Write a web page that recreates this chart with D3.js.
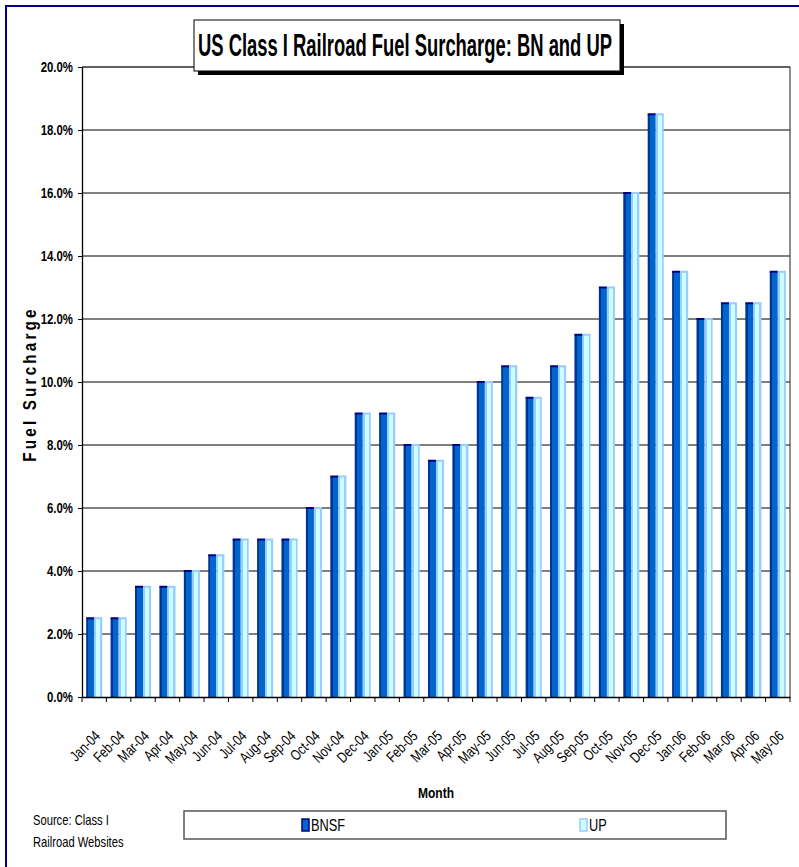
<!DOCTYPE html>
<html>
<head>
<meta charset="utf-8">
<script src="https://cdn.jsdelivr.net/npm/d3@7"></script>
<style>
  body { margin: 0; background: #fff; }
  svg text { font-family: "Liberation Sans", Arial, sans-serif; }
</style>
</head>
<body>
<svg id="chart" width="799" height="867"></svg>
<script>
// data
var months = ["Jan-04","Feb-04","Mar-04","Apr-04","May-04","Jun-04","Jul-04","Aug-04","Sep-04","Oct-04","Nov-04","Dec-04",
              "Jan-05","Feb-05","Mar-05","Apr-05","May-05","Jun-05","Jul-05","Aug-05","Sep-05","Oct-05","Nov-05","Dec-05",
              "Jan-06","Feb-06","Mar-06","Apr-06","May-06"];
var bnsf = [2.5,2.5,3.5,3.5,4.0,4.5,5.0,5.0,5.0,6.0,7.0,9.0,9.0,8.0,7.5,8.0,10.0,10.5,9.5,10.5,11.5,13.0,16.0,18.5,13.5,12.0,12.5,12.5,13.5];
var up   = [2.5,2.5,3.5,3.5,4.0,4.5,5.0,5.0,5.0,6.0,7.0,9.0,9.0,8.0,7.5,8.0,10.0,10.5,9.5,10.5,11.5,13.0,16.0,18.5,13.5,12.0,12.5,12.5,13.5];
var seriesNames = ["BNSF","UP"];
var yTicks = [0,2,4,6,8,10,12,14,16,18,20];

var svg = d3.select("#chart");
var narrow = " scale(0.8,1)"; // no narrow font installed, squeeze text instead

// plot area
var plotL = 82, plotR = 790, plotT = 67, plotB = 697;

var x = d3.scaleBand().domain(months).range([plotL, plotR]).paddingInner(0).paddingOuter(0);
var x1 = d3.scaleBand().domain(seriesNames).range([0, x.bandwidth()]).paddingInner(0).paddingOuter(0.52);
var y = d3.scaleLinear().domain([0, 20]).range([plotB, plotT]);

// gradients for the bar look
var defs = svg.append("defs");
var g1 = defs.append("linearGradient").attr("id", "gBNSF");
g1.append("stop").attr("offset", "0%").attr("stop-color", "#003399");
g1.append("stop").attr("offset", "28%").attr("stop-color", "#003399");
g1.append("stop").attr("offset", "28%").attr("stop-color", "#0066CC");
g1.append("stop").attr("offset", "100%").attr("stop-color", "#0066CC");
var g2 = defs.append("linearGradient").attr("id", "gUP");
g2.append("stop").attr("offset", "0%").attr("stop-color", "#99CCFF");
g2.append("stop").attr("offset", "25%").attr("stop-color", "#99CCFF");
g2.append("stop").attr("offset", "25%").attr("stop-color", "#CCFFFF");
g2.append("stop").attr("offset", "75%").attr("stop-color", "#CCFFFF");
g2.append("stop").attr("offset", "75%").attr("stop-color", "#99CCFF");
g2.append("stop").attr("offset", "100%").attr("stop-color", "#99CCFF");

// outer frame
svg.append("rect")
    .attr("x", 6).attr("y", 6).attr("width", 820).attr("height", 880)
    .style("fill", "none").style("stroke", "#000080").style("stroke-width", 2);

// gridlines
svg.append("g").selectAll("line").data(yTicks.slice(1)).enter().append("line")
    .attr("x1", plotL).attr("x2", plotR)
    .attr("y1", function (d) { return y(d); }).attr("y2", function (d) { return y(d); })
    .style("stroke", "#000").style("stroke-width", 1);

// plot border (top & right)
svg.append("path")
    .attr("d", "M" + plotL + "," + plotT + "H" + plotR + "V" + plotB)
    .style("fill", "none").style("stroke", "#444").style("stroke-width", 1.2);

// bars
var rows = months.map(function (m, i) { return { month: m, vals: [{ s: "BNSF", v: bnsf[i] }, { s: "UP", v: up[i] }] }; });
var groups = svg.append("g").selectAll("g").data(rows).enter().append("g")
    .attr("transform", function (d) { return "translate(" + x(d.month) + ",0)"; });

groups.selectAll("rect.bar").data(function (d) { return d.vals; }).enter().append("rect")
    .attr("class", "bar")
    .attr("x", function (d) { return x1(d.s); })
    .attr("y", function (d) { return y(d.v); })
    .attr("width", x1.bandwidth())
    .attr("height", function (d) { return plotB - y(d.v); })
    .style("fill", function (d) { return d.s == "BNSF" ? "url(#gBNSF)" : "url(#gUP)"; });

// top caps
groups.selectAll("rect.cap").data(function (d) { return d.vals; }).enter().append("rect")
    .attr("class", "cap")
    .attr("x", function (d) { return x1(d.s); })
    .attr("y", function (d) { return y(d.v) - 1; })
    .attr("width", x1.bandwidth())
    .attr("height", 2)
    .style("fill", function (d) { return d.s == "BNSF" ? "#000080" : "#99CCFF"; });

// y axis
var yAxis = svg.append("g")
    .attr("transform", "translate(" + plotL + ",0)")
    .call(d3.axisLeft(y).tickValues(yTicks).tickSize(4).tickSizeOuter(0)
        .tickFormat(function (d) { return d3.format(".1f")(d) + "%"; }));
yAxis.select(".domain").style("stroke", "#000").style("stroke-width", 1.3);
yAxis.selectAll(".tick line").style("stroke", "#000");
yAxis.selectAll("text")
    .attr("x", 0)
    .attr("transform", "translate(-9,0) scale(0.76,1)")
    .style("font-size", "15px").style("font-weight", "bold").style("fill", "#000");

// x axis
var xAxis = svg.append("g")
    .attr("transform", "translate(0," + plotB + ")")
    .call(d3.axisBottom(x).tickSize(0).tickSizeOuter(0));
xAxis.select(".domain").style("stroke", "#000").style("stroke-width", 1.3);
xAxis.selectAll("text")
    .attr("text-anchor", "end")
    .attr("dy", null)
    .attr("y", 0)
    .attr("transform", "translate(7,40) rotate(-45) scale(0.78,1)")
    .style("font-size", "15px").style("fill", "#000");

// x ticks at category boundaries
var bounds = months.map(function (m) { return x(m); }).concat([x(months[months.length - 1]) + x.bandwidth()]);
svg.append("g").selectAll("line").data(bounds).enter().append("line")
    .attr("x1", function (d) { return d; }).attr("x2", function (d) { return d; })
    .attr("y1", plotB).attr("y2", plotB + 5)
    .style("stroke", "#000");

// axis titles
svg.append("text")
    .attr("transform", "translate(436,798)" + narrow)
    .attr("text-anchor", "middle")
    .style("font-size", "15px").style("font-weight", "bold")
    .text("Month");

svg.append("text")
    .attr("transform", "translate(36,384) rotate(-90)" + narrow)
    .attr("text-anchor", "middle")
    .style("font-size", "19px").style("font-weight", "bold").style("letter-spacing", "4px")
    .text("Fuel Surcharge");

// title box with shadow
svg.append("rect").attr("x", 198).attr("y", 24).attr("width", 426).attr("height", 51).style("fill", "#000");
svg.append("rect").attr("x", 194).attr("y", 20).attr("width", 426).attr("height", 51)
    .style("fill", "#fff").style("stroke", "#000").style("stroke-width", 1);
svg.append("text")
    .attr("x", 198).attr("y", 56)
    .attr("textLength", 414).attr("lengthAdjust", "spacingAndGlyphs")
    .style("font-size", "31px").style("font-weight", "bold")
    .text("US Class I Railroad Fuel Surcharge: BN and UP");

// source note
svg.append("text").attr("transform", "translate(33,825)" + narrow).style("font-size", "14px").text("Source: Class I");
svg.append("text").attr("transform", "translate(33,847)" + narrow).style("font-size", "14px").text("Railroad Websites");

// legend
svg.append("rect").attr("x", 184).attr("y", 811).attr("width", 542).attr("height", 28)
    .style("fill", "#fff").style("stroke", "#555").style("stroke-width", 1.5);
var legendX = [302, 580];
var legend = svg.append("g").selectAll("g").data(seriesNames).enter().append("g")
    .attr("transform", function (d, i) { return "translate(" + legendX[i] + ",0)"; });
legend.append("rect")
    .attr("x", 0).attr("y", 819).attr("width", 7).attr("height", 12)
    .style("fill", function (d) { return d == "BNSF" ? "#0066CC" : "#CCFFFF"; })
    .style("stroke", function (d) { return d == "BNSF" ? "#000080" : "#99CCFF"; })
    .style("stroke-width", 1.5);
legend.append("text")
    .attr("transform", "translate(9,831)" + narrow)
    .style("font-size", "16px")
    .text(function (d) { return d; });
</script>
</body>
</html>
